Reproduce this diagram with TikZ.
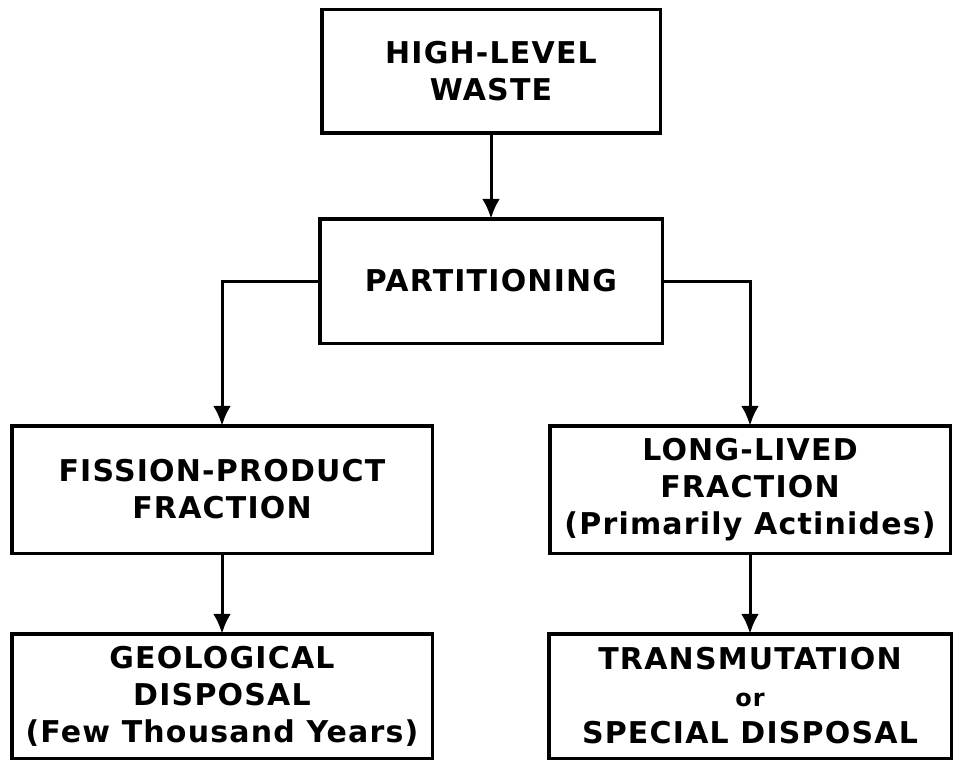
\documentclass[tikz,border=0pt]{standalone}
\usepackage{fontspec}
\setmainfont{DejaVu Sans}[LetterSpace=4]
\usepackage{tikz}
\usetikzlibrary{arrows.meta,positioning}

\begin{document}
\begin{tikzpicture}[node distance=80pt and 0pt]
  \tikzstyle{wastebox}=[rectangle,draw=black,line width=3.5pt,outer sep=0pt,minimum width=338.5pt,minimum height=123.5pt,inner sep=4pt,align=center,font=\fontsize{30}{37}\selectfont\bfseries]
  \tikzstyle{fracbox}=[wastebox,minimum width=420.5pt,minimum height=127.5pt]
  \useasboundingbox (0,0) rectangle (956pt,-765pt);

  \node[wastebox] (hlw) at (491pt,-71.5pt) {HIGH-LEVEL\\WASTE};
  \node[wastebox,below=85.5pt of hlw,minimum width=342.5pt,minimum height=124.5pt] (part) {PARTITIONING};
  \node[fracbox,below=82.5pt of part,xshift=-269pt] (fpf) {FISSION-PRODUCT\\FRACTION};
  \node[fracbox,below=82.5pt of part,xshift=259pt,minimum width=400.5pt] (llf) {LONG-LIVED\\FRACTION\\(Primarily Actinides)};
  \node[fracbox,below=80.5pt of fpf,minimum height=124.5pt] (geo) {GEOLOGICAL\\DISPOSAL\\(Few Thousand Years)};
  \node[fracbox,below=80.5pt of llf,minimum width=402.5pt,minimum height=124.5pt] (trans) {TRANSMUTATION\\{\fontsize{24}{37}\selectfont or}\\SPECIAL DISPOSAL};

  \draw[line width=3pt,-{Latex[length=20pt,width=18pt]}] (hlw) -- (part);
  \draw[line width=3pt,-{Latex[length=20pt,width=18pt]}] (part.west) -| (fpf);
  \draw[line width=3pt,-{Latex[length=20pt,width=18pt]}] (part.east) -| (llf);
  \draw[line width=3pt,-{Latex[length=20pt,width=18pt]}] (fpf) -- (geo);
  \draw[line width=3pt,-{Latex[length=20pt,width=18pt]}] (llf) -- (trans);
\end{tikzpicture}
\end{document}
